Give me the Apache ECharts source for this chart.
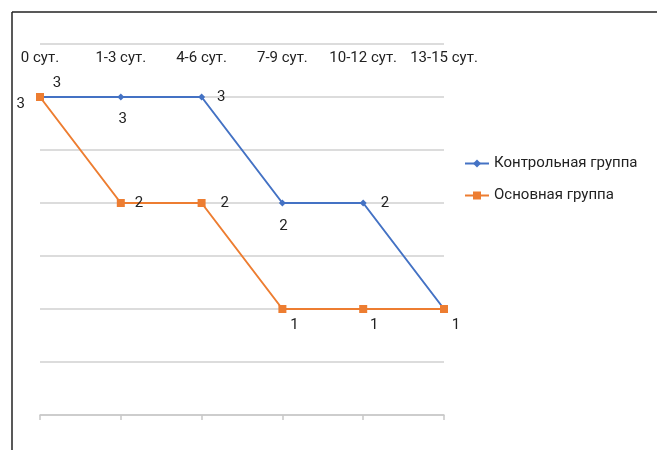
<!DOCTYPE html>
<html>
<head>
<meta charset="utf-8">
<script src="https://cdn.jsdelivr.net/npm/echarts@6/dist/echarts.min.js"></script>
<style>
  html, body { margin: 0; padding: 0; background: #fff; }
  #chart { width: 657px; height: 450px; }
</style>
</head>
<body>
<div id="chart"></div>
<script>
// периоды наблюдения
const periods = ['0 сут.', '1-3 сут.', '4-6 сут.', '7-9 сут.', '10-12 сут.', '13-15 сут.'];
// значения по группам
const controlValues = [3, 3, 3, 2, 2, 1];
const mainValues = [3, 2, 2, 1, 1, 1];

// куда ставить подписи точек (как на исходнике)
const controlLabels = [
    { position: 'top', offset: [17, 2] },
    { position: 'bottom', offset: [2, 6] },
    { position: 'right', offset: [7, 0] },
    { position: 'bottom', offset: [1, 7] },
    { position: 'right', offset: [9, 0] },
    { show: false }
];
const mainLabels = [
    { position: 'left', offset: [-6, 7] },
    { position: 'right', offset: [5, 0] },
    { position: 'right', offset: [10, 0] },
    { position: 'bottom', offset: [12, 0] },
    { position: 'bottom', offset: [11, 0] },
    { position: 'bottom', offset: [12, 0] }
];

const font = 'Roboto, sans-serif';

const chart = echarts.init(document.getElementById('chart'));

const labelStyle = { show: true, color: '#222', fontSize: 15, fontFamily: font };

chart.setOption({
    animation: false,
    grid: { left: 40, right: 213, top: 44, bottom: 35 },
    graphic: [
        { type: 'line', shape: { x1: 12, y1: 12, x2: 657, y2: 12 }, style: { stroke: '#222', lineWidth: 1.5 } },
        { type: 'line', shape: { x1: 12, y1: 12, x2: 12, y2: 450 }, style: { stroke: '#222', lineWidth: 1.5 } }
    ],
    legend: {
        orient: 'vertical',
        left: 459,
        top: 151,
        itemWidth: 24,
        itemHeight: 10,
        itemGap: 17,
        textStyle: { color: '#222', fontSize: 15, fontFamily: font },
        data: ['Контрольная группа', 'Основная группа']
    },
    xAxis: [
        {
            type: 'category',
            data: periods,
            boundaryGap: false,
            position: 'bottom',
            axisLine: { lineStyle: { color: '#c8c8c8', width: 1.5 } },
            axisTick: { show: true, length: 5, lineStyle: { color: '#c8c8c8', width: 1.5 } },
            axisLabel: { show: false },
            splitLine: { show: false }
        },
        {
            type: 'category',
            data: periods,
            boundaryGap: false,
            position: 'top',
            axisLine: { show: false },
            axisTick: { show: false },
            axisLabel: { inside: true, interval: 0, margin: 7, color: '#222', fontSize: 15, fontFamily: font },
            splitLine: { show: false }
        }
    ],
    yAxis: {
        type: 'value',
        min: 0,
        max: 3.5,
        interval: 0.5,
        axisLine: { show: false },
        axisTick: { show: false },
        axisLabel: { show: false },
        splitLine: { lineStyle: { color: '#d0d0d0', width: 1.5 } }
    },
    series: [
        {
            name: 'Контрольная группа',
            type: 'line',
            data: controlValues.map((v, i) => ({ value: v, label: controlLabels[i] })),
            symbol: 'diamond',
            symbolSize: 7,
            itemStyle: { color: '#4472C4' },
            lineStyle: { color: '#4472C4', width: 2 },
            label: labelStyle
        },
        {
            name: 'Основная группа',
            type: 'line',
            data: mainValues.map((v, i) => ({ value: v, label: mainLabels[i] })),
            symbol: 'rect',
            symbolSize: 8,
            itemStyle: { color: '#ED7D31' },
            lineStyle: { color: '#ED7D31', width: 2 },
            label: labelStyle
        }
    ]
});
</script>
</body>
</html>
